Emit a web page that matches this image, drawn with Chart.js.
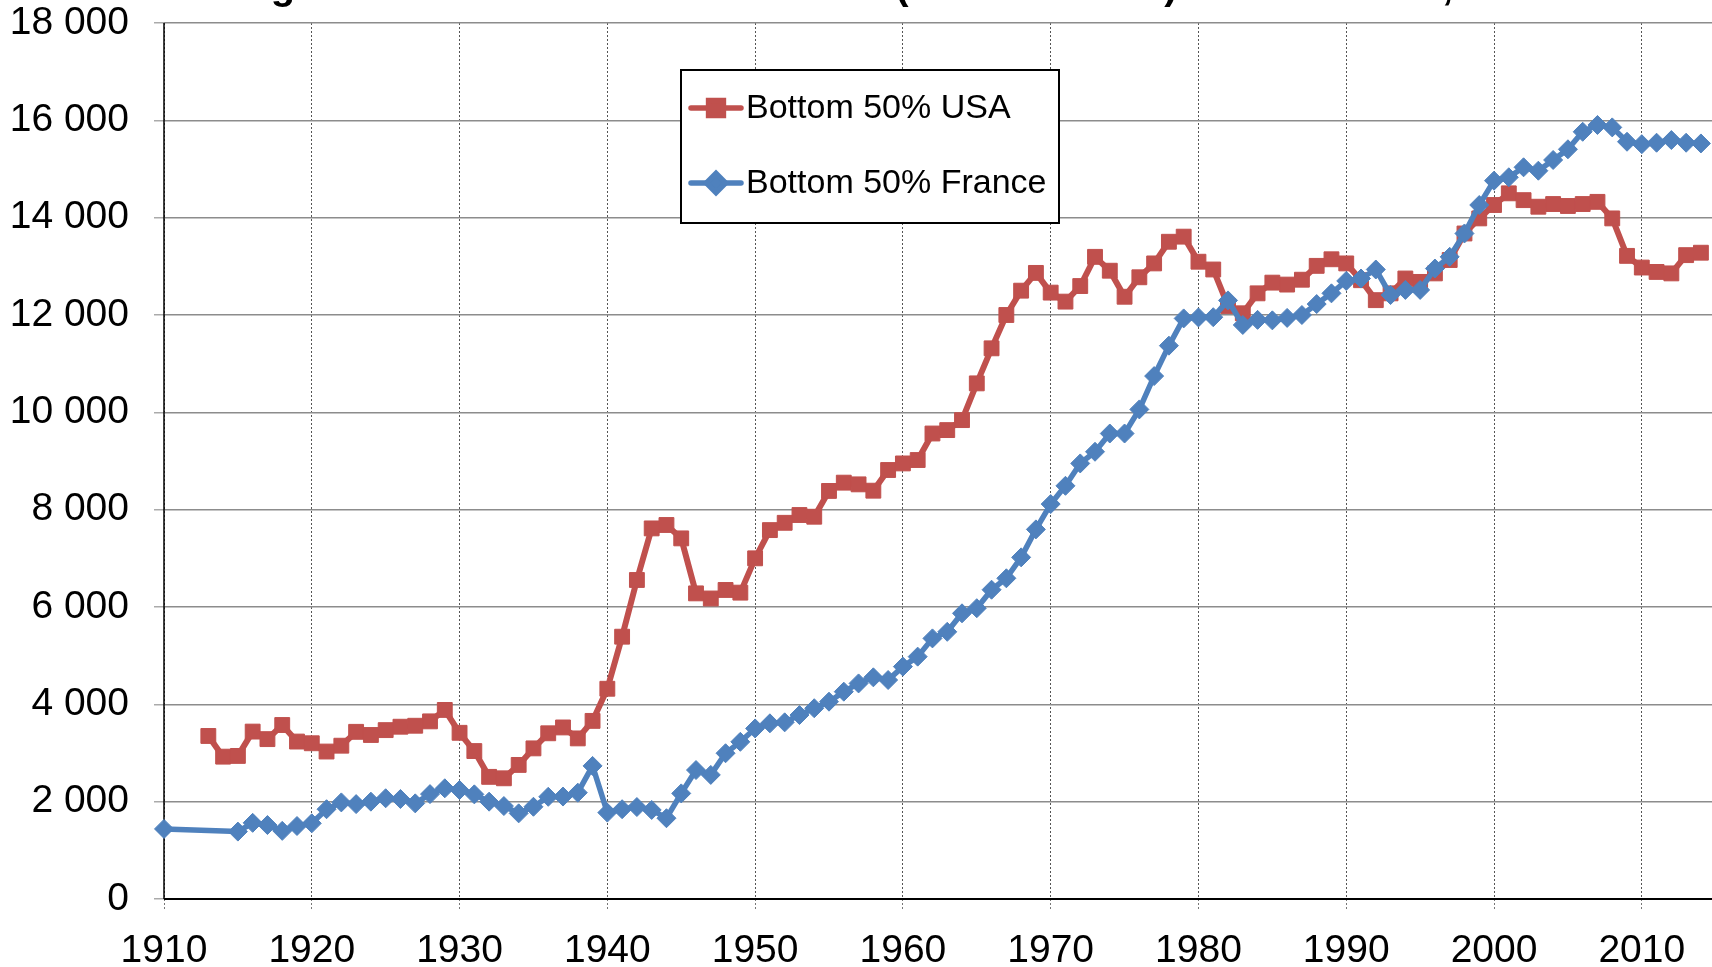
<!DOCTYPE html>
<html>
<head>
<meta charset="utf-8">
<title>Bottom 50% income, USA vs France</title>
<script src="https://cdn.jsdelivr.net/npm/chart.js@4.4.1/dist/chart.umd.min.js"></script>
<style>
  html, body { margin: 0; padding: 0; background: #fff; }
  #wrap { width: 1712px; height: 967px; }
</style>
</head>
<body>
<div id="wrap"><canvas id="chart" width="1712" height="967"></canvas></div>
<script>
// average income of the bottom 50%, constant euros
const usaYears = [
  1913, 1914, 1915, 1916, 1917, 1918, 1919, 1920, 1921, 1922, 1923, 1924, 1925, 1926, 1927, 1928, 1929,
  1930, 1931, 1932, 1933, 1934, 1935, 1936, 1937, 1938, 1939, 1940, 1941, 1942, 1943, 1944, 1945, 1946,
  1947, 1948, 1949, 1950, 1951, 1952, 1953, 1954, 1955, 1956, 1957, 1958, 1959, 1960, 1961, 1962, 1963,
  1964, 1965, 1966, 1967, 1968, 1969, 1970, 1971, 1972, 1973, 1974, 1975, 1976, 1977, 1978, 1979, 1980,
  1981, 1982, 1983, 1984, 1985, 1986, 1987, 1988, 1989, 1990, 1991, 1992, 1993, 1994, 1995, 1996, 1997,
  1998, 1999, 2000, 2001, 2002, 2003, 2004, 2005, 2006, 2007, 2008, 2009, 2010, 2011, 2012, 2013, 2014
];
const usaIncome = [
  3350, 2925, 2940, 3440, 3285, 3575, 3235, 3200, 3030, 3150, 3435, 3370, 3470, 3540, 3560, 3650, 3885,
  3415, 3040, 2510, 2480, 2755, 3095, 3405, 3525, 3300, 3660, 4320, 5390, 6555, 7615, 7685, 7410, 6280,
  6175, 6350, 6295, 7000, 7580, 7730, 7890, 7855, 8385, 8555, 8520, 8390, 8815, 8950, 9020, 9565, 9635,
  9840, 10595, 11315, 12000, 12500, 12865, 12460, 12275, 12595, 13195, 12910, 12375, 12775, 13060, 13505, 13610, 13095,
  12935, 12185, 12035, 12445, 12665, 12625, 12725, 13010, 13145, 13060, 12715, 12305, 12445, 12750, 12680, 12855, 13130,
  13675, 13985, 14260, 14500, 14360, 14225, 14280, 14240, 14280, 14325, 13985, 13215, 12975, 12885, 12855, 13230, 13280
];

const franceYears = [
  1910, 1915, 1916, 1917, 1918, 1919, 1920, 1921, 1922, 1923, 1924, 1925, 1926, 1927, 1928, 1929,
  1930, 1931, 1932, 1933, 1934, 1935, 1936, 1937, 1938, 1939, 1940, 1941, 1942, 1943, 1944, 1945, 1946,
  1947, 1948, 1949, 1950, 1951, 1952, 1953, 1954, 1955, 1956, 1957, 1958, 1959, 1960, 1961, 1962, 1963,
  1964, 1965, 1966, 1967, 1968, 1969, 1970, 1971, 1972, 1973, 1974, 1975, 1976, 1977, 1978, 1979, 1980,
  1981, 1982, 1983, 1984, 1985, 1986, 1987, 1988, 1989, 1990, 1991, 1992, 1993, 1994, 1995, 1996, 1997,
  1998, 1999, 2000, 2001, 2002, 2003, 2004, 2005, 2006, 2007, 2008, 2009, 2010, 2011, 2012, 2013, 2014
];
const franceIncome = [
  1440, 1385, 1565, 1520, 1400, 1500, 1555, 1845, 1985, 1950, 2000, 2070, 2055, 1965, 2155, 2275,
  2240, 2150, 2000, 1910, 1760, 1895, 2100, 2105, 2185, 2735, 1775, 1845, 1890, 1830, 1660, 2170, 2650,
  2550, 2995, 3230, 3505, 3610, 3630, 3780, 3920, 4055, 4260, 4430, 4555, 4500, 4775, 4980, 5355, 5490,
  5870, 5975, 6355, 6590, 7020, 7595, 8115, 8490, 8950, 9190, 9565, 9565, 10060, 10745, 11370, 11930, 11950,
  11955, 12300, 11795, 11900, 11890, 11940, 12000, 12225, 12445, 12700, 12750, 12935, 12410, 12515, 12515, 12955, 13195,
  13675, 14260, 14760, 14830, 15035, 14965, 15185, 15405, 15765, 15905, 15855, 15560, 15510, 15540, 15595, 15540, 15525
];

const yTicks = [0, 2000, 4000, 6000, 8000, 10000, 12000, 14000, 16000, 18000];
const xTicks = [1910, 1920, 1930, 1940, 1950, 1960, 1970, 1980, 1990, 2000, 2010];

const seriesNames = ['Bottom 50% USA', 'Bottom 50% France'];
const chartTitle = 'Average income of bottom 50% adults (in 2015 euros) US vs France, 1910-2014';

const RED = '#C0504D';
const BLUE = '#4F81BD';
const FONT = '"Liberation Sans", Arial, sans-serif';

function toPoints(years, values) {
  return years.map((yr, i) => ({ x: yr, y: values[i] }));
}

function spaced(v) {
  return String(v).replace(/\B(?=(\d{3})+(?!\d))/g, ' ');
}

// solid black axes over the dotted/grey grid
const axisLines = {
  id: 'axisLines',
  beforeDatasetsDraw(chart) {
    const { ctx, chartArea: a } = chart;
    ctx.save();
    ctx.strokeStyle = '#000';
    ctx.lineWidth = 1.5;
    ctx.beginPath();
    ctx.moveTo(a.left, a.top);
    ctx.lineTo(a.left, a.bottom);
    ctx.stroke();
    ctx.lineWidth = 2;
    ctx.beginPath();
    ctx.moveTo(a.left, a.bottom);
    ctx.lineTo(a.right, a.bottom);
    ctx.stroke();
    ctx.restore();
  }
};

// title sits above the canvas, only its lowest strokes show
const topTitle = {
  id: 'topTitle',
  afterDraw(chart) {
    const { ctx } = chart;
    ctx.save();
    ctx.font = 'bold 40px ' + FONT;
    ctx.fillStyle = '#000';
    ctx.textBaseline = 'alphabetic';
    ctx.textAlign = 'left';
    ctx.fillText(chartTitle, 161, -1);
    ctx.restore();
  }
};

// boxed legend inside the plot
const boxLegend = {
  id: 'boxLegend',
  afterDraw(chart) {
    const { ctx } = chart;
    const box = { x: 681, y: 70, w: 378, h: 153 };
    ctx.save();
    ctx.fillStyle = '#fff';
    ctx.fillRect(box.x, box.y, box.w, box.h);
    ctx.strokeStyle = '#000';
    ctx.lineWidth = 2;
    ctx.strokeRect(box.x, box.y, box.w, box.h);

    const rows = [108, 183];
    chart.data.datasets.slice().sort((a, b) => b.order - a.order).forEach((ds, i) => {
      const y = rows[i];
      ctx.strokeStyle = ds.borderColor;
      ctx.lineWidth = 5.5;
      ctx.lineCap = 'round';
      ctx.beginPath();
      ctx.moveTo(691, y);
      ctx.lineTo(741, y);
      ctx.stroke();
      ctx.fillStyle = ds.pointBackgroundColor;
      ctx.strokeStyle = ds.pointBorderColor;
      Chart.helpers.drawPoint(ctx, {
        pointStyle: ds.pointStyle,
        radius: ds.pointRadius,
        borderWidth: ds.pointBorderWidth,
        rotation: 0
      }, 716, y);
      ctx.fillStyle = '#000';
      ctx.font = '34px ' + FONT;
      ctx.textBaseline = 'middle';
      ctx.textAlign = 'left';
      ctx.fillText(ds.label, 746, y + 1);
    });
    ctx.restore();
  }
};

new Chart(document.getElementById('chart'), {
  type: 'line',
  data: {
    datasets: [
      {
        label: seriesNames[1],
        data: toPoints(franceYears, franceIncome),
        order: 0,
        borderColor: BLUE,
        borderWidth: 5.5,
        pointStyle: 'rectRot',
        pointRadius: 9.5,
        pointBackgroundColor: BLUE,
        pointBorderColor: BLUE,
        pointBorderWidth: 1,
        borderJoinStyle: 'round',
        borderCapStyle: 'round',
        tension: 0,
        clip: false
      },
      {
        label: seriesNames[0],
        data: toPoints(usaYears, usaIncome),
        order: 1,
        borderColor: RED,
        borderWidth: 6,
        pointStyle: 'rect',
        pointRadius: 10.5,
        pointBackgroundColor: RED,
        pointBorderColor: RED,
        pointBorderWidth: 1,
        borderJoinStyle: 'round',
        borderCapStyle: 'round',
        tension: 0,
        clip: false
      }
    ]
  },
  options: {
    responsive: false,
    animation: false,
    devicePixelRatio: 1,
    layout: { autoPadding: false, padding: { top: 23, left: 0, right: 0, bottom: 0 } },
    plugins: {
      legend: { display: false },
      tooltip: { enabled: false }
    },
    scales: {
      x: {
        type: 'linear',
        min: xTicks[0],
        max: 2014.75,
        afterFit(s) {
          s.height = 68;
          s.paddingLeft = 0;
          s.paddingRight = 0;
        },
        afterBuildTicks(s) { s.ticks = xTicks.map(v => ({ value: v })); },
        ticks: {
          autoSkip: false,
          maxRotation: 0,
          padding: 17,
          color: '#000',
          font: { family: FONT, size: 39 },
          callback: v => String(v)
        },
        grid: {
          color: '#555',
          lineWidth: 1,
          tickLength: 12,
          tickColor: '#777',
          tickBorderDash: [2, 2]
        },
        border: { display: false, dash: [2, 2] }
      },
      y: {
        min: yTicks[0],
        max: yTicks[yTicks.length - 1],
        afterFit(s) {
          s.width = 164;
          s.paddingTop = 0;
          s.paddingBottom = 0;
        },
        afterBuildTicks(s) { s.ticks = yTicks.map(v => ({ value: v })); },
        ticks: {
          padding: 25,
          color: '#000',
          font: { family: FONT, size: 39 },
          callback: v => spaced(v)
        },
        grid: {
          color: '#8c8c8c',
          lineWidth: 1.5,
          tickLength: 10,
          tickColor: '#aaa'
        },
        border: { display: false }
      }
    }
  },
  plugins: [axisLines, topTitle, boxLegend]
});
</script>
</body>
</html>
